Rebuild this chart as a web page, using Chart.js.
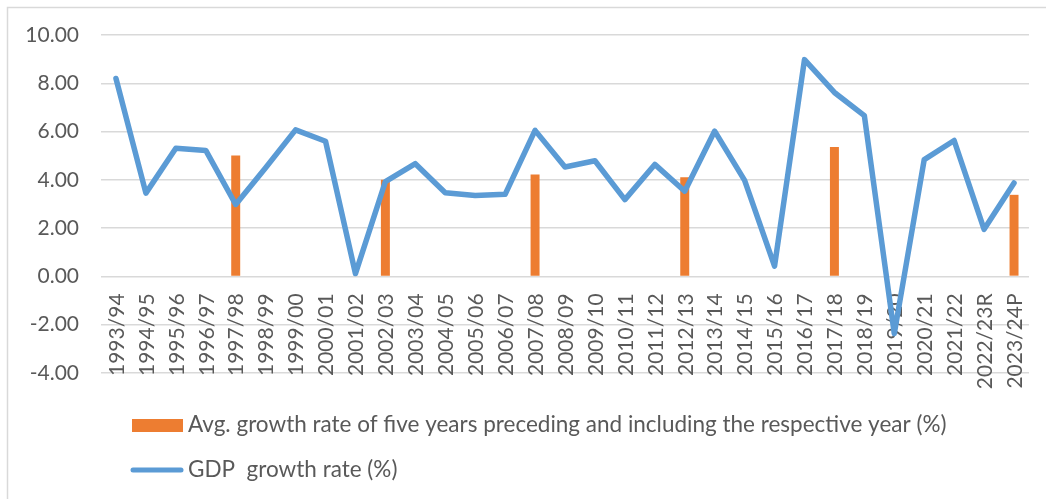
<!DOCTYPE html>
<html>
<head>
<meta charset="utf-8">
<script src="https://cdn.jsdelivr.net/npm/chart.js@4/dist/chart.umd.min.js"></script>
<style>
  html, body { margin: 0; padding: 0; background: #fff; }
  #wrap { width: 1046px; height: 499px; }
</style>
</head>
<body>
<div id="wrap"><canvas id="grafico-pib" width="1046" height="499"></canvas></div>
<script>
// Anos fiscais
const anos = ['1993/94', '1994/95', '1995/96', '1996/97', '1997/98', '1998/99', '1999/00', '2000/01',
    '2001/02', '2002/03', '2003/04', '2004/05', '2005/06', '2006/07', '2007/08', '2008/09', '2009/10',
    '2010/11', '2011/12', '2012/13', '2013/14', '2014/15', '2015/16', '2016/17', '2017/18', '2018/19',
    '2019/20', '2020/21', '2021/22', '2022/23R', '2023/24P'];

// Crescimento do PIB (%)
const crescimentoPib = [8.2, 3.45, 5.31, 5.22, 2.98, 4.5, 6.07, 5.6, 0.12, 3.93, 4.67, 3.47, 3.35, 3.4,
    6.05, 4.53, 4.79, 3.18, 4.64, 3.53, 6.02, 3.98, 0.43, 8.98, 7.62, 6.66, -2.37, 4.84, 5.63, 1.95, 3.87];

// Média dos cinco anos (só nos anos de fechamento)
const mediaCincoAnos = [null, null, null, null, 5.01, null, null, null, null, 4.0, null, null, null, null,
    4.22, null, null, null, null, 4.11, null, null, null, null, 5.36, null, null, null, null, null, 3.38];

const eixoY = { min: -4, max: 10, passo: 2 };

const corTexto = '#595959';
const corGrade = '#D9D9D9';
const fonte = 'Lato, "Liberation Sans", sans-serif';

// Rótulos do eixo X desenhados na linha do zero, na vertical
const rotulosX = {
    id: 'rotulosX',
    beforeDatasetsDraw(chart) {
        const { ctx, scales: { x, y } } = chart;
        const y0 = y.getPixelForValue(0);
        ctx.save();
        ctx.fillStyle = corTexto;
        ctx.font = '21px ' + fonte;
        ctx.textAlign = 'right';
        ctx.textBaseline = 'middle';
        chart.data.labels.forEach((lbl, i) => {
            ctx.save();
            ctx.translate(x.getPixelForValue(i) + 1, y0 + 17);
            ctx.rotate(-Math.PI / 2);
            ctx.fillText(lbl, 0, 0);
            ctx.restore();
        });
        ctx.restore();
    }
};

// Moldura e legenda
const moldura = {
    id: 'moldura',
    beforeDraw(chart) {
        const { ctx } = chart;
        ctx.save();
        ctx.strokeStyle = corGrade;
        ctx.lineWidth = 1.5;
        ctx.beginPath();
        ctx.moveTo(7.5, 499);
        ctx.lineTo(7.5, 7.5);
        ctx.lineTo(1046, 7.5);
        ctx.stroke();
        ctx.restore();
    },
    afterDraw(chart) {
        const { ctx } = chart;
        const [barras, linha] = chart.data.datasets;
        ctx.save();
        ctx.font = '22.5px ' + fonte;
        ctx.textBaseline = 'middle';
        ctx.textAlign = 'left';

        ctx.fillStyle = barras.backgroundColor;
        ctx.fillRect(132, 419, 51, 13);
        ctx.fillStyle = corTexto;
        ctx.fillText(barras.label, 188, 425);

        ctx.strokeStyle = linha.borderColor;
        ctx.lineWidth = 5;
        ctx.lineCap = 'round';
        ctx.beginPath();
        ctx.moveTo(133, 470);
        ctx.lineTo(181, 470);
        ctx.stroke();
        ctx.fillText(linha.label, 188, 470);
        ctx.restore();
    }
};

const ctxPib = document.getElementById('grafico-pib').getContext('2d');
const pibChart = new Chart(ctxPib, {
    type: 'bar',
    data: {
        labels: anos,
        datasets: [{
            type: 'bar',
            label: 'Avg. growth rate of five years preceding and including the respective year (%)',
            data: mediaCincoAnos,
            backgroundColor: '#ED7D31',
            barPercentage: 0.3,
            categoryPercentage: 1.0,
            order: 1
        }, {
            type: 'line',
            label: 'GDP  growth rate (%)',
            data: crescimentoPib,
            borderColor: '#5B9BD5',
            backgroundColor: '#5B9BD5',
            borderWidth: 5.5,
            borderJoinStyle: 'round',
            borderCapStyle: 'round',
            pointRadius: 0,
            tension: 0,
            order: 0
        }]
    },
    options: {
        responsive: false,
        animation: false,
        layout: {
            padding: { left: 0, right: 17, top: 35, bottom: 126 }
        },
        plugins: {
            legend: { display: false },
            tooltip: { enabled: false }
        },
        scales: {
            x: {
                display: false
            },
            y: {
                min: eixoY.min,
                max: eixoY.max,
                afterFit(scale) { scale.width = 101; },
                border: { display: false },
                grid: {
                    color: corGrade,
                    lineWidth: 1.5,
                    drawTicks: false
                },
                ticks: {
                    stepSize: eixoY.passo,
                    padding: 22,
                    color: corTexto,
                    font: { family: fonte, size: 21 },
                    callback: v => v.toFixed(2)
                }
            }
        }
    },
    plugins: [rotulosX, moldura]
});
</script>
</body>
</html>
